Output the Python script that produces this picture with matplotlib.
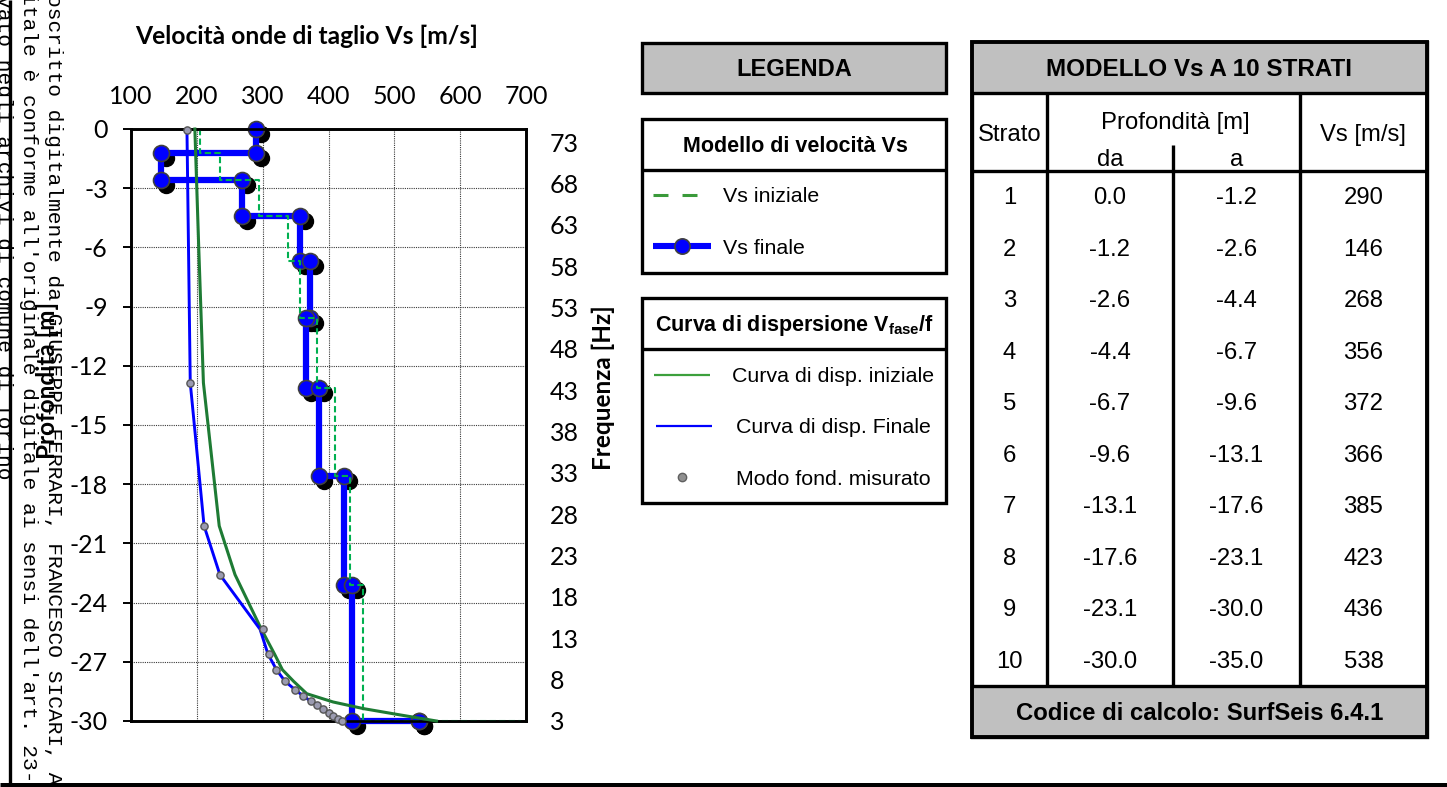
import matplotlib
matplotlib.use('Agg')
import matplotlib.pyplot as plt
from matplotlib.patches import Rectangle
from matplotlib.transforms import offset_copy

plt.rcParams['font.family'] = ['Lato', 'DejaVu Sans']
plt.rcParams['axes.unicode_minus'] = False

# ---- Modello Vs a 10 strati ----
strato = [1, 2, 3, 4, 5, 6, 7, 8, 9, 10]
prof_da = [0.0, -1.2, -2.6, -4.4, -6.7, -9.6, -13.1, -17.6, -23.1, -30.0]
prof_a = [-1.2, -2.6, -4.4, -6.7, -9.6, -13.1, -17.6, -23.1, -30.0, -35.0]
vs_finale = [290, 146, 268, 356, 372, 366, 385, 423, 436, 538]
vs_iniziale = [205, 235, 295, 338, 356, 382, 410, 433, 453, 693]

# ---- Curve di dispersione: frequenza [Hz] / velocita di fase [m/s] ----
freq_mis = [74.5, 43.9, 26.6, 20.7, 14.1, 11.1, 9.2, 7.8, 6.8, 6.0, 5.4, 4.9, 4.4, 4.0, 3.6, 3.2, 3.0]
vfase_mis = [185, 190, 211, 235, 301, 310, 321, 334, 349, 362, 373, 383, 392, 400, 407, 415, 420]
vfase_fin = [185, 190, 211, 235, 296, 308, 321, 334, 349, 362, 373, 383, 392, 400, 407, 415, 420]
freq_ini = [74.6, 60.0, 43.9, 26.6, 20.7, 14.1, 11.1, 9.2, 7.8, 6.3, 5.3, 4.5, 3.8, 3.0]
vfase_ini = [197, 203, 210, 234, 258, 298, 318, 330, 347, 367, 407, 453, 504, 564]

# ---- axis scales ----
vel_ticks = list(range(100, 701, 100))
depth_ticks = list(range(0, -31, -3))
freq_ticks = list(range(3, 74, 5))

W, H = 1447, 787
DPI = 100
fig = plt.figure(figsize=(W / DPI, H / DPI), dpi=DPI, facecolor='white')

# chart box in pixels (left, top, right, bottom)
cl, ct, cr, cb = 131, 129, 526, 721
ax = fig.add_axes([cl / W, 1 - cb / H, (cr - cl) / W, (cb - ct) / H])
ax.set_xlim(100, 700)
ax.set_ylim(-30, 0)
ax.xaxis.tick_top()
ax.set_xticks(vel_ticks)
ax.set_yticks(depth_ticks)
ax.tick_params(axis='x', length=0, pad=15, labelsize=18)
ax.tick_params(axis='y', direction='out', length=5.8, width=1.4, pad=11, labelsize=18)
ax.set_axisbelow(True)
ax.grid(True, color='#3a3a3a', lw=0.8, ls=(0, (1, 1)))
for sp in ax.spines.values():
    sp.set_linewidth(1.9)


def step_profile(vs, top, bottom, zmin=-30.0):
    xs, ys = [], []
    for v, t, b in zip(vs, top, bottom):
        xs += [v, v]
        ys += [max(t, zmin), max(b, zmin)]
    return xs, ys


xf, yf = step_profile(vs_finale, prof_da, prof_a)
xi, yi = step_profile(vs_iniziale, prof_da, prof_a)

shadow = offset_copy(ax.transData, fig=fig, x=5, y=-5, units='dots')
ax.plot(xf, yf, ls='none', marker='o', ms=11.5, mfc='black', mec='black',
        transform=shadow, zorder=2.5, clip_on=False)
ax.plot(xf, yf, color='#0000FF', lw=4.5, zorder=3, solid_joinstyle='miter', clip_on=False)
ax.plot(xf, yf, ls='none', marker='o', ms=11.5, mfc='#0000FF', mec='#404040', mew=1.2,
        zorder=4, clip_on=False)
ax.plot(xi, yi, color='#00B050', lw=1.5, ls=(0, (3, 1.6)), zorder=6, clip_on=False)

ax2 = ax.twinx()
ax2.set_ylim(3, 74.6)
ax2.set_yticks(freq_ticks)
ax2.tick_params(axis='y', length=0, pad=17, labelsize=18)
for sp in ax2.spines.values():
    sp.set_linewidth(1.9)
ax2.plot(vfase_ini, freq_ini, color='#1E7B34', lw=2.2, zorder=3, clip_on=False)
ax2.plot(vfase_fin, freq_mis, color='#0000FF', lw=2.1, zorder=4, clip_on=False)
ax2.plot(vfase_mis, freq_mis, ls='none', marker='o', ms=5.2, mfc='#9b9bb0', mec='#555555',
         mew=1.0, zorder=5, clip_on=False)

# ---- overlay in pixel coordinates for titles, legend, table, frame ----
ov = fig.add_axes([0, 0, 1, 1])
ov.set_xlim(0, W)
ov.set_ylim(H, 0)
ov.axis('off')

PX = DPI / 72.0
SANS = ['Liberation Sans', 'DejaVu Sans']


def txt(x, y, s, size, weight='normal', ha='center', family=SANS, cap=0.358):
    ov.text(x, y + cap * size * PX, s, ha=ha, va='baseline', fontsize=size,
            fontweight=weight, family=family, color='black')


def box(x0, y0, x1, y1, fc='white', lw=2.4):
    ov.add_patch(Rectangle((x0, y0), x1 - x0, y1 - y0, fc=fc, ec='black', lw=lw,
                           joinstyle='miter'))


def hline(x0, x1, y, lw=2.4):
    ov.plot([x0, x1], [y, y], color='black', lw=lw, solid_capstyle='butt')


def vline(x, y0, y1, lw=2.4):
    ov.plot([x, x], [y0, y1], color='black', lw=lw, solid_capstyle='butt')


# chart titles
ov.text(307, 44.5, 'Velocità onde di taglio Vs [m/s]', ha='center', va='baseline',
        fontsize=17.7, fontweight='bold')
ov.text(47, 380, 'Profondità [m]', ha='center', va='center', rotation=90,
        fontsize=17.5, fontweight='bold')
ov.text(603, 388, 'Frequenza [Hz]', ha='center', va='center', rotation=90,
        fontsize=17.5, fontweight='bold')

# legend
box(642, 43, 946, 93, fc='#C0C0C0')
txt(794, 67.5, 'LEGENDA', 17, 'bold')

box(642, 119, 946, 273)
hline(642, 946, 170)
txt(795, 144.5, 'Modello di velocità Vs', 15.5, 'bold')
ov.plot([653, 711], [195, 195], color='#3A9A3A', lw=2.2, ls=(0, (4.9, 4.6)),
        solid_capstyle='butt', dash_capstyle='butt')
txt(723, 194.5, 'Vs iniziale', 15.4, ha='left')
ov.plot([653, 711], [246, 246], color='#0000FF', lw=4.4, solid_capstyle='butt')
ov.plot([682], [246], marker='o', ms=11, mfc='#0000FF', mec='#404040', mew=1.2)
txt(723, 246, 'Vs finale', 15.4, ha='left')

box(642, 298, 946, 503)
hline(642, 946, 349)
txt(795, 323, r'Curva di dispersione V$_{\mathregular{fase}}$/f', 15.5, 'bold')
ov.plot([654, 710], [374.5, 374.5], color='#3CA03C', lw=1.6, solid_capstyle='butt')
txt(833, 374.5, 'Curva di disp. iniziale', 15.4)
ov.plot([656, 712], [426, 426], color='#0000FF', lw=1.6, solid_capstyle='butt')
txt(833, 425.7, 'Curva di disp. Finale', 15.4)
ov.plot([682], [476.5], marker='o', ms=6, mfc='#909090', mec='#606060', mew=1.0)
txt(833, 477, 'Modo fond. misurato', 15.4)

# table
tl, tr, tt, tb = 972, 1427, 42, 737
box(tl, tt, tr, tb)
ov.add_patch(Rectangle((tl, tt), tr - tl, 93 - tt, fc='#C0C0C0', ec='none'))
ov.add_patch(Rectangle((tl, 686), tr - tl, tb - 686, fc='#C0C0C0', ec='none'))
box(tl, tt, tr, tb, fc='none', lw=2.8)
hline(tl, tr, 93)
hline(tl, tr, 171)
hline(tl, tr, 686)
vline(1047, 93, 686)
vline(1300, 93, 686)
vline(1173, 145, 686)
TS = 17.2
txt(1199.5, 67.5, 'MODELLO Vs A 10 STRATI', 17.5, 'bold')
txt(1009.5, 132, 'Strato', TS)
txt(1175, 120, 'Profondità [m]', TS)
txt(1110, 157.5, 'da', TS)
txt(1236.5, 157.5, 'a', TS)
txt(1363.5, 132, 'Vs [m/s]', TS)
row0, drow = 195.6, 51.5
for i, (n, d0, d1, v) in enumerate(zip(strato, prof_da, prof_a, vs_finale)):
    y = row0 + i * drow
    txt(1009.5, y, f'{n}', TS)
    txt(1110, y, f'{d0:.1f}', TS)
    txt(1236.5, y, f'{d1:.1f}', TS)
    txt(1363.5, y, f'{v}', TS)
txt(1199.5, 711, 'Codice di calcolo: SurfSeis 6.4.1', 17.2, 'bold')

# page frame and signature stamp along the left margin
MONO = ['Liberation Mono', 'DejaVu Sans Mono']
stamp = [
    (53.5, -6, 'oscritto digitalmente da GIUSEPPE FERRARI, FRANCESCO SICARI, A'),
    (28.5, -8, "itale è conforme all'originale digitale ai sensi dell'art. 23-"),
    (3.5, -5, 'vato negli archivi di comune di Torino'),
]
for x, y, s in stamp:
    ov.text(x, y, s, rotation=270, rotation_mode='anchor', ha='left', va='center',
            fontsize=15.3, family=MONO, color='black')
vline(10, 0, H, lw=2.4)
hline(0, W, 784.5, lw=3.6)

fig.savefig('out.png', dpi=DPI, facecolor='white')
